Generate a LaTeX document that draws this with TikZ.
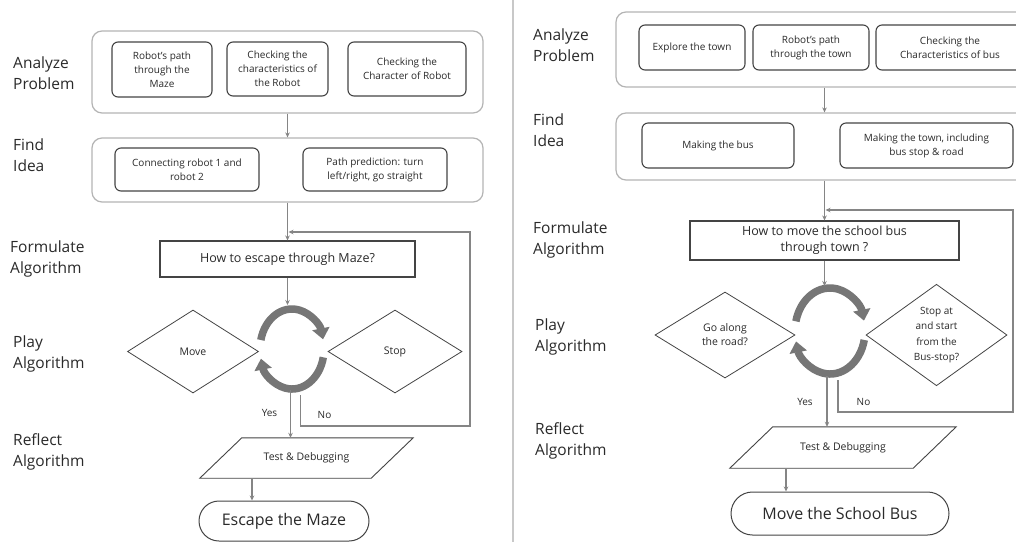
\documentclass[tikz,border=0pt]{standalone}
\usepackage{fontspec}
\setmainfont{Open Sans}
\usetikzlibrary{arrows.meta,shapes.geometric,calc}
\definecolor{txt}{HTML}{2A2A2A}
\definecolor{outc}{HTML}{B4B4B4}
\definecolor{inc}{HTML}{444444}
\definecolor{arrc}{HTML}{858585}
\definecolor{cycc}{HTML}{767676}
\definecolor{sepc}{HTML}{C8C8C8}
\begin{document}
\begin{tikzpicture}[x=1pt,y=1pt,
  lab/.style={anchor=west, align=left, font=\fontsize{15.5}{21.5}\selectfont, text=txt, inner sep=0},
  outer/.style={draw=outc, line width=1.2, rounded corners=10, inner sep=0},
  inbox/.style={draw=inc, line width=1.1, rounded corners=6, align=center, font=\fontsize{10}{14}\selectfont, text=txt, inner sep=0},
  fbox/.style={draw=inc, line width=1.1, align=center, font=\fontsize{12.5}{16}\selectfont, text=txt, inner sep=0},
  dia/.style={diamond, draw=inc, line width=0.8, align=center, font=\fontsize{10.5}{14}\selectfont, text=txt, inner sep=0},
  flow/.style={draw=arrc, line width=1.1, -{Stealth[length=5,width=4.5]}},
  cyc/.style={line width=7.5, draw=cycc, -{Triangle[length=11,width=17]}},
  paratext/.style={align=center, font=\fontsize{10.5}{13}\selectfont, text=txt, inner sep=0},
  para/.style={draw=inc, line width=0.9},
  term/.style={draw=inc, line width=1, font=\fontsize{16}{18}\selectfont, text=txt, inner sep=0},
  small/.style={font=\fontsize{10}{12}\selectfont, text=txt, inner sep=0}
]
\clip (0,0) rectangle (1016,-542);
\fill[white] (0,0) rectangle (1016,-542);

% ===================== LEFT PANEL =====================
\node[lab] (lA) at (13,-73) {Analyze\\Problem};
\node[lab] (lB) at (13,-155) {Find\\Idea};
\node[lab] (lC) at (10,-259) {Formulate\\Algorithm};
\node[lab] (lD) at (13,-354) {Play\\Algorithm};
\node[lab] (lE) at (13,-452) {Reflect\\Algorithm};

\node[outer, minimum width=391, minimum height=82] (oL1) at (287.5,-72) {};
\node[inbox, minimum width=100, minimum height=55] (aL1) at (162,-69.5) {Robot's path\\through the\\Maze};
\node[inbox, minimum width=101, minimum height=54] (aL2) at (277.5,-69) {Checking the\\characteristics of\\the Robot};
\node[inbox, minimum width=118, minimum height=54] (aL3) at (407,-69) {Checking the\\Character of Robot};

\node[outer, minimum width=391, minimum height=64] (oL2) at (287.5,-170) {};
\node[inbox, minimum width=144, minimum height=43] (iL1) at (187,-169.5) {Connecting robot 1 and\\robot 2};
\node[inbox, minimum width=144, minimum height=43] (iL2) at (375,-169.5) {Path prediction: turn\\left/right, go straight};

\node[fbox, minimum width=255, minimum height=36] (fL) at (287.5,-259) {How to escape through Maze?};

\node[dia, minimum width=131, minimum height=83] (mL) at (193,-351.5) {Move};
\node[dia, minimum width=134, minimum height=83] (sL) at (395,-351.5) {Stop};

\coordinate (cL) at (292,-349);
\coordinate (cLtop) at (287.5,-305);
\draw[cyc] (cL) ++(167:32 and 40) arc[start angle=167, end angle=14, x radius=32, y radius=40];
\draw[cyc] (cL) ++(-12:32 and 40) arc[start angle=-12, end angle=-166, x radius=32, y radius=40];

\node[paratext, minimum width=171, minimum height=40] (pL) at (306.5,-458) {Test \& Debugging};
\draw[para] ([xshift=-21]pL.south west) -- ([xshift=-21]pL.south east) -- ([xshift=21]pL.north east) -- ([xshift=21]pL.north west) -- cycle;

\node[term, minimum width=170, minimum height=40, rounded corners=20] (tL) at (284,-521) {Escape the Maze};

\node[small] (yesL) at (269.5,-413) {Yes};
\node[small] (noL) at (324.5,-415) {No};

\draw[flow] (oL1.south) -- (oL2.north);
\draw[flow] (oL2.south) -- (fL.north);
\draw[flow] (fL.south) -- (cLtop);
\coordinate (yL) at (290.5,-390);
\draw[flow] (yL) -- (yL |- pL.north);
\coordinate (nL) at (300.5,-395);
\coordinate (fbL) at (288.5,-232);
\draw[flow] (nL) -- (300.5,-426) -- (470,-426) -- (470,-232) -- (fbL);
\coordinate (pLo) at (252,-478);
\draw[flow] (pLo) -- (pLo |- tL.north);

% separator
\coordinate (sepT) at (513,0);
\coordinate (sepB) at (513,-542);
\draw[sepc, line width=1.3] (sepT) -- (sepB);

% ===================== RIGHT PANEL =====================
\node[lab] (rA) at (533,-45) {Analyze\\Problem};
\node[lab] (rB) at (533,-130) {Find\\Idea};
\node[lab] (rC) at (533,-240) {Formulate\\Algorithm};
\node[lab] (rD) at (535,-337) {Play\\Algorithm};
\node[lab] (rE) at (535,-441) {Reflect\\Algorithm};

\node[outer, minimum width=424, minimum height=75] (oR1) at (828,-49.5) {};
\node[inbox, minimum width=106, minimum height=45] (aR1) at (692,-47.5) {Explore the town};
\node[inbox, minimum width=116, minimum height=45] (aR2) at (811,-47.5) {Robot's path\\through the town};
\node[inbox, minimum width=148, minimum height=45] (aR3) at (950,-47.5) {Checking the\\Characteristics of bus};

\node[outer, minimum width=424, minimum height=67] (oR2) at (828,-146.5) {};
\node[inbox, minimum width=152, minimum height=45] (iR1) at (718,-145.5) {Making the bus};
\node[inbox, minimum width=173, minimum height=45] (iR2) at (926.5,-145.5) {Making the town, including\\bus stop \& road};

\node[fbox, minimum width=269, minimum height=39] (fR) at (824.5,-240.5) {How to move the school bus\\through town ?};

\node[dia, minimum width=140, minimum height=86] (gR) at (725,-335) {Go along\\the road?};
\node[dia, minimum width=141, minimum height=86, font=\fontsize{10}{15.5}\selectfont] (sR) at (936.5,-335) {Stop at\\and start\\from the\\Bus-stop?};

\coordinate (cR) at (830,-331);
\coordinate (cRtop) at (824.5,-286);
\draw[cyc] (cR) ++(167:35 and 43) arc[start angle=167, end angle=14, x radius=35, y radius=43];
\draw[cyc] (cR) ++(-12:35 and 43) arc[start angle=-12, end angle=-166, x radius=35, y radius=43];

\node[paratext, minimum width=183, minimum height=41] (pR) at (843,-447.5) {Test \& Debugging};
\draw[para] ([xshift=-21.5]pR.south west) -- ([xshift=-21.5]pR.south east) -- ([xshift=21.5]pR.north east) -- ([xshift=21.5]pR.north west) -- cycle;

\node[term, minimum width=218, minimum height=43, rounded corners=21.5] (tR) at (840,-513.5) {Move the School Bus};

\node[small] (yesR) at (805,-402) {Yes};
\node[small] (noR) at (863.5,-402) {No};

\draw[flow] (oR1.south -| fR.north) -- (oR2.north -| fR.north);
\draw[flow] (oR2.south -| fR.north) -- (fR.north);
\draw[flow] (fR.south) -- (cRtop);
\coordinate (yR) at (827,-376);
\draw[flow] (yR) -- (yR |- pR.north);
\coordinate (nR) at (838,-380);
\coordinate (fbR) at (825.5,-210);
\draw[flow] (nR) -- (838,-412) -- (1013,-412) -- (1013,-210) -- (fbR);
\coordinate (pRo) at (786,-468);
\draw[flow] (pRo) -- (pRo |- tR.north);
\end{tikzpicture}
\end{document}
